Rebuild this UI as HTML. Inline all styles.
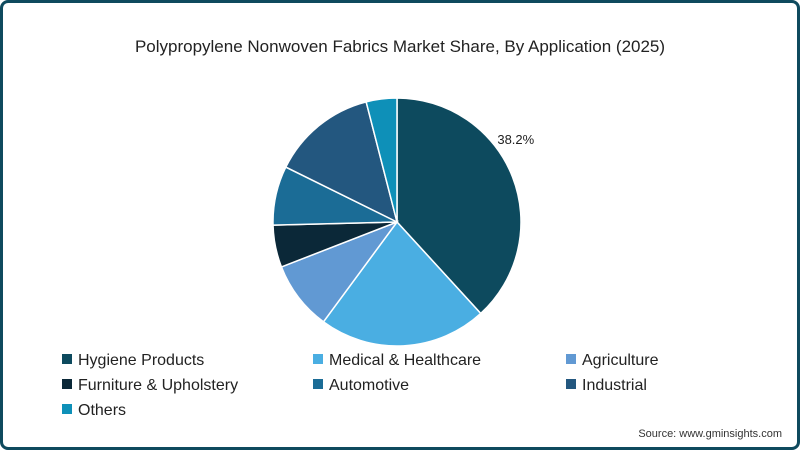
<!DOCTYPE html>
<html><head><meta charset="utf-8"><style>
body{margin:0;width:800px;height:450px;overflow:hidden;background:#fff;font-family:"Liberation Sans",sans-serif}
#frame{position:absolute;left:0;top:0;width:794px;height:444px;border:3px solid #0f4a5e;border-radius:8px;background:#fff}
</style></head><body>
<div id="frame"></div>
<svg id="c" width="800" height="450" style="position:absolute;left:0;top:0">
<text x="400" y="52" text-anchor="middle" font-size="17" fill="#222">Polypropylene Nonwoven Fabrics Market Share, By Application (2025)</text>
<text x="782" y="437" text-anchor="end" font-size="11" fill="#333">Source: www.gminsights.com</text>
</svg>
<script>
const categories=["Hygiene Products","Medical & Healthcare","Agriculture","Furniture & Upholstery","Automotive","Industrial","Others"];
const values=[38.2,21.9,9.0,5.5,7.7,13.7,4.0];
const colors=["#0d4a5e","#4aaee2","#6199d3","#0b2838","#1b6c96","#23577f","#0e90b8"];
const svg=document.getElementById('c');const NS="http://www.w3.org/2000/svg";
const cx=397,cy=222,r=124;
const total=values.reduce((a,b)=>a+b,0);
let a0=0;
values.forEach((v,i)=>{
 const a1=a0+v/total*2*Math.PI;
 const p=document.createElementNS(NS,'path');
 const x0=cx+r*Math.sin(a0),y0=cy-r*Math.cos(a0),x1=cx+r*Math.sin(a1),y1=cy-r*Math.cos(a1);
 p.setAttribute('d',`M${cx},${cy}L${x0},${y0}A${r},${r} 0 ${a1-a0>Math.PI?1:0} 1 ${x1},${y1}Z`);
 p.setAttribute('fill',colors[i]);p.setAttribute('stroke','#fff');p.setAttribute('stroke-width','1.5');
 
 
 svg.appendChild(p);
 if(i===0){
  const am=(a0+a1)/2*0.8;const t=document.createElementNS(NS,'text');
  t.setAttribute('x',cx+(r+21)*Math.sin(am));t.setAttribute('y',cy-(r+21)*Math.cos(am)+5);
  t.setAttribute('font-size','13');t.setAttribute('fill','#222');t.setAttribute('text-anchor','middle');
  t.textContent=v.toFixed(1)+'%';
  
  
  svg.appendChild(t);
 }
 a0=a1;
});
const colX=[62,313,566];
categories.forEach((c,i)=>{
 const x=colX[i%3],y=359+Math.floor(i/3)*25;
 const g=document.createElementNS(NS,'g');
 
 
 const rc=document.createElementNS(NS,'rect');
 rc.setAttribute('x',x);rc.setAttribute('y',y-5);rc.setAttribute('width',10);rc.setAttribute('height',10);rc.setAttribute('fill',colors[i]);
 const t=document.createElementNS(NS,'text');
 t.setAttribute('x',x+16);t.setAttribute('y',y+6);t.setAttribute('font-size','16');t.setAttribute('fill','#222');
 t.textContent=c;
 g.appendChild(rc);g.appendChild(t);svg.appendChild(g);
});
</script>
</body></html>
